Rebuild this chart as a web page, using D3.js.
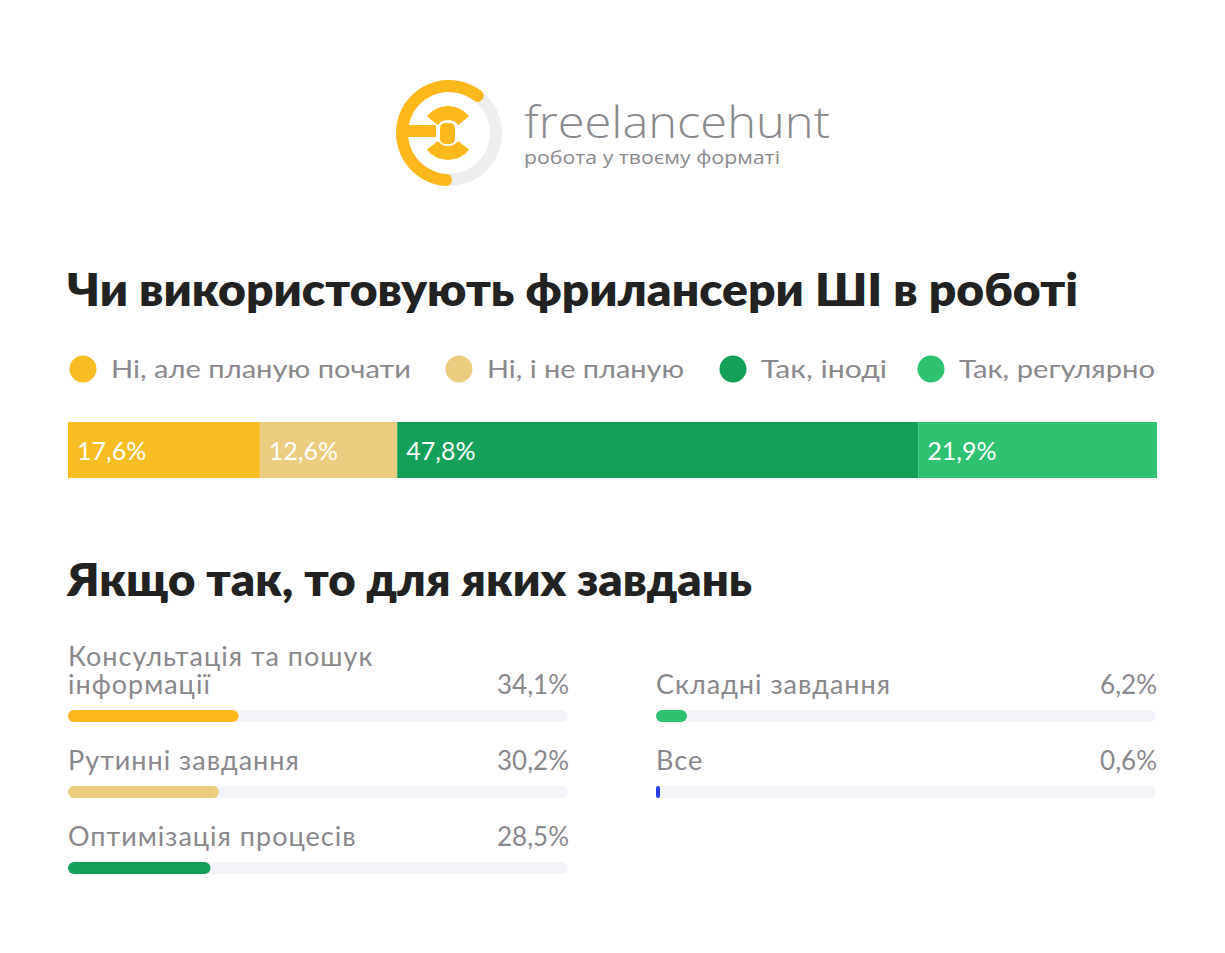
<!DOCTYPE html>
<html>
<head>
<meta charset="utf-8">
<script src="https://cdn.jsdelivr.net/npm/d3@7"></script>
<style>
  html, body { margin: 0; padding: 0; background: #ffffff; }
  svg { display: block; }
</style>
</head>
<body>
<svg id="chart" width="1225" height="953"></svg>
<script>
// ---------- DATA ----------
const title1 = "Чи використовують фрилансери ШІ в роботі";
const title2 = "Якщо так, то для яких завдань";
const logoName = "freelancehunt";
const logoTagline = "робота у твоєму форматі";

const usageCategories = ["Ні, але планую почати", "Ні, і не планую", "Так, іноді", "Так, регулярно"];
const usageValues = [17.6, 12.6, 47.8, 21.9];
const usageColors = ["#f8bd22", "#eccd80", "#15a05a", "#2ec170"];

const taskCategories = ["Консультація та пошук інформації", "Рутинні завдання", "Оптимізація процесів", "Складні завдання", "Все"];
const taskValues = [34.1, 30.2, 28.5, 6.2, 0.6];
const taskColors = ["#fdb91c", "#eccd80", "#15a05a", "#2ec170", "#2b3fe6"];

const fmt = v => String(v.toFixed(1)).replace(".", ",") + "%";

// ---------- SETUP ----------
const svg = d3.select("#chart");
const W = 1225, H = 953;
svg.append("rect").attr("width", W).attr("height", H).attr("fill", "#ffffff");

const bodyFont = "Lato, 'Noto Sans', sans-serif";
const titleFont = "Lato, 'Noto Sans', sans-serif";
const grey = "#89888c";

// ---------- LOGO ----------
const logo = svg.append("g").attr("transform", "translate(449,133)");
const ringArc = d3.arc().innerRadius(41).outerRadius(53);
logo.append("path")
  .attr("d", ringArc({startAngle: 0, endAngle: 2 * Math.PI}))
  .attr("fill", "#eeeeef");
logo.append("path")
  .attr("d", d3.arc().innerRadius(41).outerRadius(53).cornerRadius(6)({startAngle: Math.PI * 0.98, endAngle: Math.PI * 2 + Math.PI * 0.25}))
  .attr("fill", "#fdb91c");
// inner symbol
const innerArc = d3.arc().innerRadius(13).outerRadius(27);
logo.append("path").attr("d", innerArc({startAngle: -0.9, endAngle: 0.9})).attr("fill", "#fdb91c").attr("transform", "translate(-1,0)");
logo.append("path").attr("d", innerArc({startAngle: Math.PI - 0.9, endAngle: Math.PI + 0.9})).attr("fill", "#fdb91c").attr("transform", "translate(-1,0)");
logo.append("rect").attr("x", -41).attr("y", -8).attr("width", 28).attr("height", 12).attr("fill", "#fdb91c");
logo.append("rect").attr("x", -9).attr("y", -10).attr("width", 15).attr("height", 21).attr("rx", 5).attr("fill", "#fdb91c");

svg.append("text")
  .attr("x", 524).attr("y", 138)
  .attr("font-family", "'Open Sans', 'Noto Sans', sans-serif")
  .attr("font-weight", 300)
  .attr("font-size", 44)
  .attr("fill", "#8a8a8c")
  .attr("textLength", 306).attr("lengthAdjust", "spacingAndGlyphs")
  .text(logoName);
svg.append("text")
  .attr("x", 524).attr("y", 164)
  .attr("font-family", "'Open Sans', 'Noto Sans', sans-serif")
  .attr("font-weight", 400)
  .attr("font-size", 19)
  .attr("fill", "#8a8a8c")
  .attr("textLength", 256).attr("lengthAdjust", "spacingAndGlyphs")
  .text(logoTagline);

// ---------- TITLE 1 ----------
svg.append("text")
  .attr("x", 67).attr("y", 306)
  .attr("font-family", titleFont).attr("font-weight", 800)
  .attr("font-size", 46).attr("fill", "#222222")
  .attr("textLength", 1011).attr("lengthAdjust", "spacingAndGlyphs")
  .text(title1);

// ---------- LEGEND ----------
const legendX = [83, 459, 733, 931];
const legendW = [300, 197, 126, 196];
const leg = svg.append("g");
usageCategories.forEach((c, i) => {
  leg.append("circle").attr("cx", legendX[i]).attr("cy", 369).attr("r", 13.5).attr("fill", usageColors[i]);
  leg.append("text")
    .attr("x", legendX[i] + 28).attr("y", 378)
    .attr("font-family", bodyFont).attr("font-size", 25).attr("fill", grey)
    .attr("textLength", legendW[i]).attr("lengthAdjust", "spacingAndGlyphs")
    .text(c);
});

// ---------- STACKED BAR ----------
const stackX = d3.scaleLinear().domain([0, d3.sum(usageValues)]).range([68, 1157]);
const cum = d3.cumsum(usageValues);
const segs = usageValues.map((v, i) => ({v, start: i === 0 ? 0 : cum[i - 1], end: cum[i], color: usageColors[i]}));
const sg = svg.append("g");
sg.selectAll("rect").data(segs).join("rect")
  .attr("x", d => stackX(d.start))
  .attr("y", 422)
  .attr("width", d => stackX(d.end) - stackX(d.start))
  .attr("height", 56)
  .attr("fill", d => d.color);
sg.selectAll("text").data(segs).join("text")
  .attr("x", d => stackX(d.start) + 9)
  .attr("y", 460)
  .attr("font-family", bodyFont).attr("font-size", 25).attr("fill", "#ffffff")
  .text(d => fmt(d.v));

// ---------- TITLE 2 ----------
svg.append("text")
  .attr("x", 67).attr("y", 596)
  .attr("font-family", titleFont).attr("font-weight", 800)
  .attr("font-size", 46).attr("fill", "#222222")
  .attr("textLength", 685).attr("lengthAdjust", "spacingAndGlyphs")
  .text(title2);

// ---------- TASK BARS ----------
const colX = [68, 656];
const trackW = 500;
const rowY = [710, 786, 862];
const barX = d3.scaleLinear().domain([0, 100]).range([0, trackW]);
const tg = svg.append("g");
taskCategories.forEach((c, i) => {
  const col = i < 3 ? 0 : 1;
  const row = i < 3 ? i : i - 3;
  const x0 = colX[col], y0 = rowY[row];
  const g = tg.append("g").attr("transform", `translate(${x0},${y0})`);
  g.append("rect").attr("x", 0).attr("y", 0).attr("width", trackW).attr("height", 12).attr("rx", 6).attr("fill", "#f3f4f9");
  const w = Math.max(barX(taskValues[i]), 4);
  g.append("rect").attr("x", 0).attr("y", 0).attr("width", w).attr("height", 12).attr("rx", Math.min(6, w / 2)).attr("fill", taskColors[i]);
  // value
  g.append("text").attr("x", trackW + 1).attr("y", -16).attr("text-anchor", "end")
    .attr("font-family", bodyFont).attr("font-size", 26).attr("fill", grey)
    .text(fmt(taskValues[i]));
  // label with wrap
  const lbl = g.append("text").attr("x", 0).attr("y", -16)
    .attr("font-family", bodyFont).attr("font-size", 27).attr("letter-spacing", 1).attr("fill", grey);
  const words = c.split(" ");
  let lines = [], cur = [];
  const probe = g.append("text").attr("font-family", bodyFont).attr("font-size", 27).attr("letter-spacing", 1);
  words.forEach(wd => {
    const test = cur.concat([wd]).join(" ");
    probe.text(test);
    if (probe.node().getComputedTextLength() > 340 && cur.length) { lines.push(cur.join(" ")); cur = [wd]; }
    else cur.push(wd);
  });
  lines.push(cur.join(" "));
  probe.remove();
  lines.forEach((ln, k) => {
    lbl.append("tspan").attr("x", 0).attr("dy", k === 0 ? -(lines.length - 1) * 28 : 28).text(ln);
  });
});
</script>
</body>
</html>
